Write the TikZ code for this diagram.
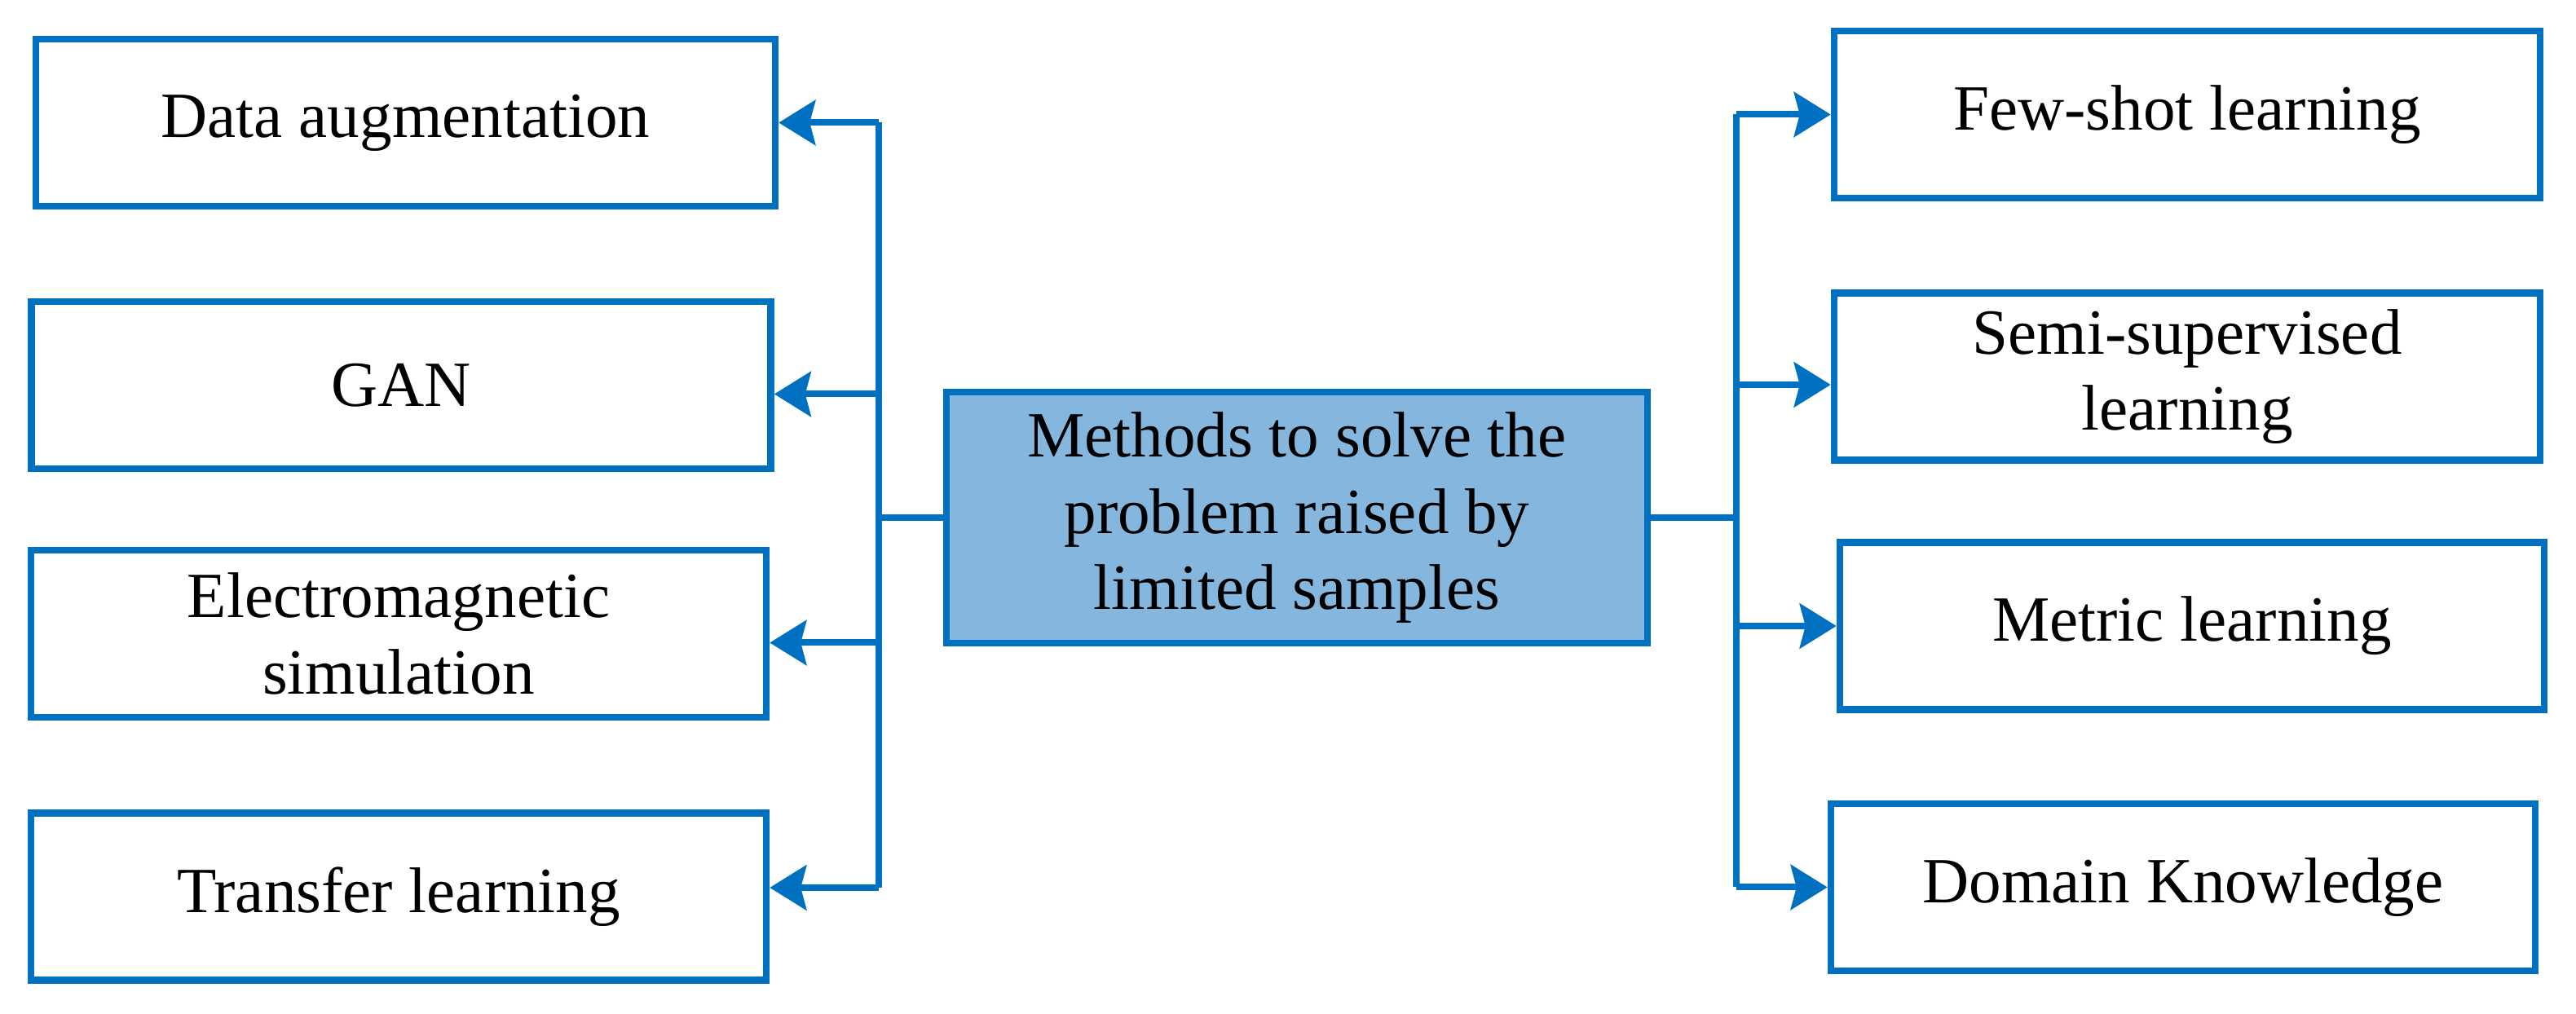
\documentclass[tikz,border=0pt]{standalone}
\usepackage{fontspec}
\setmainfont{Liberation Serif}
\usetikzlibrary{arrows.meta}
\definecolor{lineblue}{RGB}{0,112,192}
\definecolor{fillblue}{RGB}{132,182,222}
\tikzset{
  methodbox/.style = {draw=lineblue,line width=0.085cm,minimum height=2.05cm,
    align=center,inner sep=0pt,font=\fontsize{22.5pt}{26.5pt}\selectfont},
  link/.style = {draw=lineblue,line width=0.08cm},
  tip/.style = {-{Stealth[length=0.45cm,width=0.55cm,inset=0.07cm]}}
}

\begin{document}
\begin{tikzpicture}
  \useasboundingbox (0,0) rectangle (31.6,12.44);
  % centre
  \node[methodbox,fill=fillblue,minimum width=8.6cm,minimum height=3.08cm]
    (mid) at (15.91,6.09) {Methods to solve the\\problem raised by\\limited samples};
  % left side
  \node[methodbox,minimum width=9.07cm] (da)  at (4.975,10.935) {Data augmentation};
  \node[methodbox,minimum width=9.07cm] (gan) at (4.92,7.715) {GAN};
  \node[methodbox,minimum width=9.02cm] (em)  at (4.89,4.665) {Electromagnetic\\simulation};
  \node[methodbox,minimum width=9.02cm] (tl)  at (4.89,1.44) {Transfer learning};
  % right side
  \node[methodbox,minimum width=8.66cm] (fsl) at (26.83,11.035) {Few-shot learning};
  \node[methodbox,minimum width=8.66cm] (ssl) at (26.83,7.82) {Semi-supervised\\learning};
  \node[methodbox,minimum width=8.64cm] (ml)  at (26.89,4.76) {Metric learning};
  \node[methodbox,minimum width=8.64cm] (dk)  at (26.78,1.555) {Domain Knowledge};
  \coordinate (lbus) at (10.78,0);
  \coordinate (rbus) at (21.30,0);
  % trunks
  \draw[link] (mid.west) -- (mid.west -| lbus);
  \draw[link] (mid.east) -- (mid.east -| rbus);
  \draw[link] (da.east -| lbus) -- ([yshift=0.11cm]tl.east -| lbus);
  \draw[link] (fsl.west -| rbus) -- (dk.west -| rbus);
  % branches
  \draw[link,tip] (da.east -| lbus) -- (da.east);
  \draw[link,tip] ([yshift=-0.11cm]gan.east -| lbus) -- ([yshift=-0.11cm]gan.east);
  \draw[link,tip] ([yshift=-0.11cm]em.east -| lbus) -- ([yshift=-0.11cm]em.east);
  \draw[link,tip] ([yshift=0.11cm]tl.east -| lbus) -- ([yshift=0.11cm]tl.east);
  \draw[link,tip] (fsl.west -| rbus) -- (fsl.west);
  \draw[link,tip] ([yshift=-0.1cm]ssl.west -| rbus) -- ([yshift=-0.1cm]ssl.west);
  \draw[link,tip] (ml.west -| rbus) -- (ml.west);
  \draw[link,tip] (dk.west -| rbus) -- (dk.west);
\end{tikzpicture}
\end{document}
